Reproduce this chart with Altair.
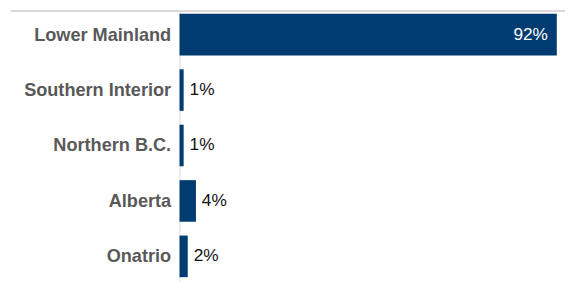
import altair as alt
import pandas as pd

regions = ["Lower Mainland", "Southern Interior", "Northern B.C.", "Alberta", "Onatrio"]
shares = [0.92, 0.01, 0.01, 0.04, 0.02]
labels = ["92%", "1%", "1%", "4%", "2%"]

df = pd.DataFrame({"region": regions, "share": shares, "label": labels})

W = 391
H = 275
FONT = "Arial"

y = alt.Y("region:N", sort=regions,
          scale=alt.Scale(paddingInner=0.25, paddingOuter=0.07),
          axis=alt.Axis(title=None, ticks=False, labelPadding=9, labelFontSize=18.4,
                        labelFont=FONT, labelFontWeight="bold",
                        labelColor="#595959", domainColor="#d9d9d9", domainWidth=1,
                        labelLimit=300))
x = alt.X("share:Q", scale=alt.Scale(domain=[0, 0.94], nice=False), axis=None)

base = alt.Chart(df)
bars = base.mark_bar(color="#003B71").encode(x=x, y=y)
outside = base.transform_filter("datum.share < 0.5").mark_text(
    align="left", baseline="middle", dx=6, fontSize=17.5, font=FONT, color="#111111"
).encode(x=x, y=y, text="label:N")
inside = base.transform_filter("datum.share >= 0.5").mark_text(
    align="right", baseline="middle", dx=-9, fontSize=17.5, font=FONT, color="white"
).encode(x=x, y=y, text="label:N")
toprule = alt.Chart(pd.DataFrame({"a": [0]})).mark_rule(color="#d9d9d9", strokeWidth=2).encode(
    x=alt.value(-171), x2=alt.value(400), y=alt.value(1), y2=alt.value(1))

chart = alt.layer(bars, outside, inside, toprule).properties(
    width=W, height=H,
    autosize=alt.AutoSizeParams(type="none"),
    padding={"left": 174, "top": 0, "right": 0, "bottom": 0},
).configure_view(stroke=None)

chart.save("out.html", embed_options={"renderer": "svg", "actions": False})
